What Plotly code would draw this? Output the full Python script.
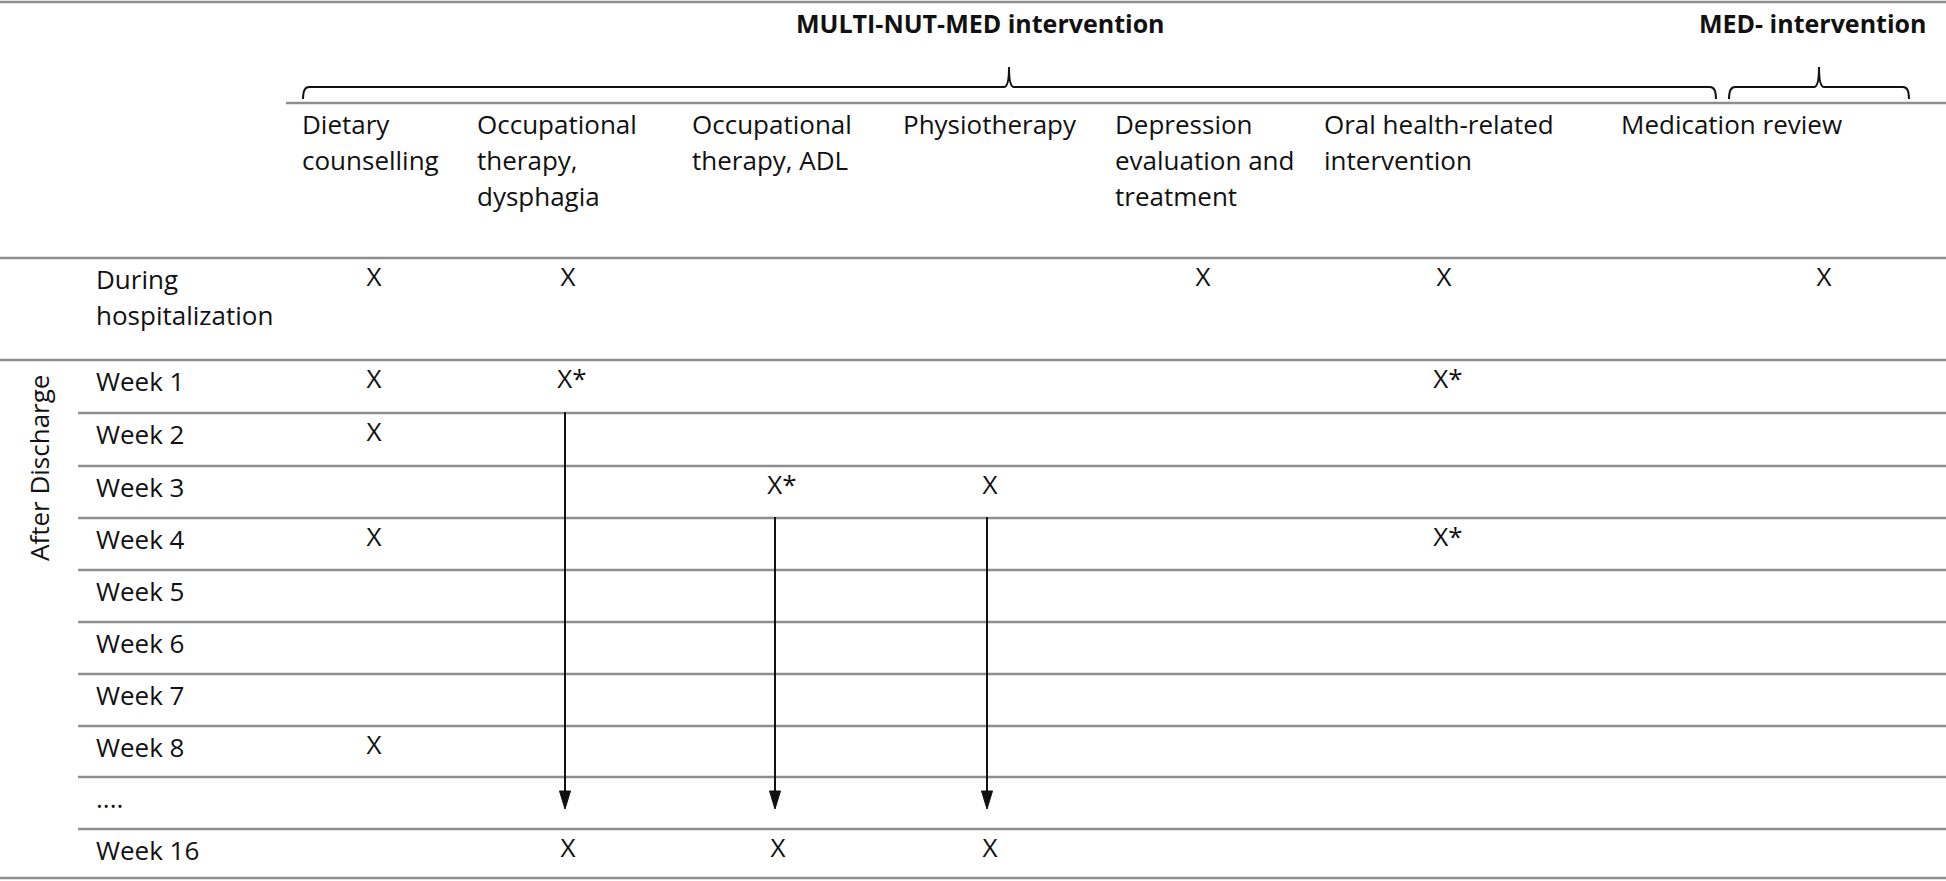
import plotly.graph_objects as go

# ---------------- data ----------------
group_titles = ["MULTI-NUT-MED intervention", "MED- intervention"]
columns = [
    ["Dietary", "counselling"],
    ["Occupational", "therapy,", "dysphagia"],
    ["Occupational", "therapy, ADL"],
    ["Physiotherapy"],
    ["Depression", "evaluation and", "treatment"],
    ["Oral health-related", "intervention"],
    ["Medication review"],
]
rows = [
    ["During", "hospitalization"],
    ["Week 1"], ["Week 2"], ["Week 3"], ["Week 4"], ["Week 5"],
    ["Week 6"], ["Week 7"], ["Week 8"], ["...."], ["Week 16"],
]
side_label = "After Discharge"
marks = [
    ["X", "X", "", "", "X", "X", "X"],
    ["X", "X*", "", "", "", "X*", ""],
    ["X", "", "", "", "", "", ""],
    ["", "", "X*", "X", "", "", ""],
    ["X", "", "", "", "", "X*", ""],
    ["", "", "", "", "", "", ""],
    ["", "", "", "", "", "", ""],
    ["", "", "", "", "", "", ""],
    ["X", "", "", "", "", "", ""],
    ["", "", "", "", "", "", ""],
    ["", "X", "X", "X", "", "", ""],
]
# continuation arrows: (column index, from row index, to row index)
arrows = [(1, 1, 9), (2, 3, 9), (3, 3, 9)]

# ---------------- layout geometry (pixels) ----------------
W, H = 1946, 881
FONT = "Open Sans"
FS = 26
FSB = 25
TXT = "#111111"
RULE = "#8e8e8e"
col_text_left = [300, 475, 690, 901, 1113, 1322, 1619]
col_mark_x = [374, 568, 778, 990, 1203, 1444, 1824]
row_bounds = [360, 413, 466, 518, 570, 622, 674, 726, 777, 829, 878]
first_row_top = 258
header_line_y = [124, 160, 196]
row_label_x = 94
line_gap = 36

fig = go.Figure()

# marks through scatter text
mx, my, mt = [], [], []
for ri, r in enumerate(marks):
    top = first_row_top if ri == 0 else row_bounds[ri - 1]
    for ci, m in enumerate(r):
        if m:
            mx.append(col_mark_x[ci] + (4 if m.endswith("*") else 0))
            my.append(top + 21)
            mt.append(m)
fig.add_trace(go.Scatter(x=mx, y=my, text=mt, mode="text",
                         textfont=dict(family=FONT, size=FS, color=TXT),
                         textposition="middle center", hoverinfo="skip",
                         showlegend=False))

ann = []
# group titles
ann.append(dict(x=980, y=23, text="<b>" + group_titles[0] + "</b>", showarrow=False,
                xanchor="center", yanchor="middle", font=dict(family=FONT, size=FSB, color=TXT)))
ann.append(dict(x=1812, y=23, text="<b>" + group_titles[1] + "</b>", showarrow=False,
                xanchor="center", yanchor="middle", font=dict(family=FONT, size=FSB, color=TXT)))
# column headers
for ci, lines in enumerate(columns):
    for li, t in enumerate(lines):
        ann.append(dict(x=col_text_left[ci], y=header_line_y[li], text=t, showarrow=False,
                        xanchor="left", yanchor="middle",
                        font=dict(family=FONT, size=FS, color=TXT)))
# row labels
for ri, lines in enumerate(rows):
    top = first_row_top if ri == 0 else row_bounds[ri - 1]
    for li, t in enumerate(lines):
        ann.append(dict(x=row_label_x, y=top + 21 + li * line_gap, text=t, showarrow=False,
                        xanchor="left", yanchor="middle",
                        font=dict(family=FONT, size=FS, color=TXT)))
# side label
ann.append(dict(x=39, y=468, text=side_label, textangle=-90, showarrow=False,
                xanchor="center", yanchor="middle", font=dict(family=FONT, size=FS, color=TXT)))

shapes = []
def hline(y, x0=0, x1=W, w=2.5):
    shapes.append(dict(type="line", x0=x0, x1=x1, y0=y, y1=y,
                       line=dict(color=RULE, width=w), layer="below"))

hline(2)
hline(103, x0=286)
hline(first_row_top)
hline(row_bounds[0])
for yb in row_bounds[1:-1]:
    hline(yb, x0=78)
hline(row_bounds[-1])

# braces
def brace(x0, x1, xm, y=87, hook=99, tip=67):
    p = (f"M {x0},{hook} Q {x0},{y} {x0+6},{y} L {xm-5},{y} Q {xm},{y} {xm},{tip} "
         f"Q {xm},{y} {xm+5},{y} L {x1-6},{y} Q {x1},{y} {x1},{hook}")
    shapes.append(dict(type="path", path=p, line=dict(color="#111", width=2)))
brace(303, 1716, 1009)
brace(1729, 1909, 1819)

# arrows
for ci, r0, r1 in arrows:
    x = col_mark_x[ci] - 3
    y0 = row_bounds[r0] - 1
    ytip = row_bounds[r1 - 1] + 32
    shapes.append(dict(type="line", x0=x, x1=x, y0=y0, y1=ytip - 10,
                       line=dict(color="#111", width=2)))
    shapes.append(dict(type="path",
                       path=f"M {x-5.5},{ytip-18} L {x+5.5},{ytip-18} L {x},{ytip} Z",
                       fillcolor="#111", line=dict(color="#111", width=1)))

fig.update_layout(
    width=W, height=H, margin=dict(l=0, r=0, t=0, b=0),
    paper_bgcolor="white", plot_bgcolor="white",
    xaxis=dict(range=[0, W], visible=False, fixedrange=True),
    yaxis=dict(range=[H, 0], visible=False, fixedrange=True),
    annotations=ann, shapes=shapes,
)
fig.write_html("out.html", config={"displayModeBar": False},
               post_script="document.body.style.margin='0';document.body.style.overflow='hidden';")
